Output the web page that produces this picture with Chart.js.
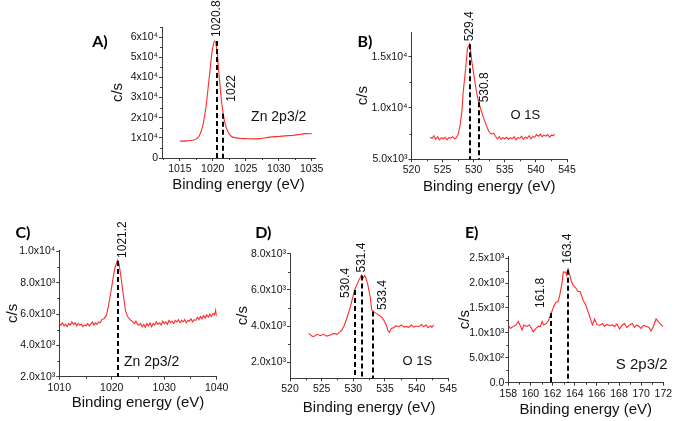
<!DOCTYPE html>
<html>
<head>
<meta charset="utf-8">
<script src="https://cdn.jsdelivr.net/npm/chart.js@4.4.1/dist/chart.umd.min.js"></script>
<style>
  html, body { margin: 0; padding: 0; background: #fff; }
  #wrap { position: relative; width: 675px; height: 421px; overflow: hidden; }
  #wrap canvas { position: absolute; left: 0; top: 0; }
</style>
</head>
<body>
<div id="wrap">
  <canvas id="chartA" width="675" height="421"></canvas>
  <canvas id="chartB" width="675" height="421"></canvas>
  <canvas id="chartC" width="675" height="421"></canvas>
  <canvas id="chartD" width="675" height="421"></canvas>
  <canvas id="chartE" width="675" height="421"></canvas>
</div>
<script>
// --- A) Zn 2p3/2 ---
const energyA = [1015, 1016, 1017, 1017.5, 1018, 1018.5, 1019, 1019.5, 1019.9, 1020.3, 1020.65,
  1021, 1021.4, 1021.8, 1022.3, 1022.8, 1023.5, 1024.2, 1025, 1026, 1027, 1028, 1029, 1030,
  1031, 1032, 1033, 1034, 1035];
const countsA = [8300, 8500, 8800, 9500, 11300, 16300, 26200, 41200, 52800, 58100, 52800,
  39500, 26200, 17900, 13000, 10800, 10000, 9700, 9600, 9500, 9600, 10000, 10500, 10700,
  11000, 11200, 11600, 12100, 12000];
const peakPosA = [1020.65, 1021.55];
const peakTopA = [58000, 22000];
const peakLabelA = ["1020.8", "1022"];
const xTicksA = [1015, 1020, 1025, 1030, 1035];
const yTicksA = [0, 10000, 20000, 30000, 40000, 50000, 60000];
const yLabelsA = ["0", "1x10⁴", "2x10⁴", "3x10⁴", "4x10⁴", "5x10⁴", "6x10⁴"];

// --- B) O 1S ---
const energyB = [523.0, 523.3, 523.6, 523.9, 524.2, 524.5, 524.8, 525.1, 525.4, 525.7, 526.0,
  526.3, 526.6, 526.9, 527.2, 527.5, 527.8, 528.1, 528.3, 528.7, 529.0, 529.35, 529.5, 529.7,
  530.1, 530.4, 530.7, 531.1, 531.5, 532.0, 532.4, 532.8, 533.2, 533.5, 533.8, 534.1, 534.4,
  534.7, 535.0, 535.3, 535.6, 535.9, 536.2, 536.5, 536.8, 537.1, 537.4, 537.7, 538.0, 538.3,
  538.6, 538.9, 539.2, 539.5, 539.8, 540.1, 540.4, 540.7, 541.0, 541.3, 541.6, 541.9, 542.2,
  542.5, 542.8, 543.0];
const countsB = [7150, 7050, 7300, 6950, 7200, 6900, 7100, 7000, 7150, 6900, 7100,
  7050, 7200, 7000, 7100, 7400, 8300, 9600, 11500, 13800, 15800, 16250, 15650, 14500,
  12900, 11750, 10800, 9950, 9150, 8350, 7750, 7450, 7550, 7250, 7000, 7200, 6950,
  7100, 7000, 7150, 6950, 7100, 7000, 7200, 6900, 7100, 7050, 7250, 6950, 7150,
  7050, 7300, 7000, 7200, 7150, 7400, 7250, 7450, 7200, 7350, 7250, 7400, 7150,
  7350, 7300, 7450];
const peakPosB = [529.4, 530.85];
const peakTopB = [16200, 10550];
const peakLabelB = ["529.4", "530.8"];
const xTicksB = [520, 525, 530, 535, 540, 545];
const yTicksB = [5000, 10000, 15000];
const yLabelsB = ["5.0x10³", "1.0x10⁴", "1.5x10⁴"];

// --- C) Zn 2p3/2 ---
const energyC = [1010.0, 1010.3, 1010.6, 1010.9, 1011.2, 1011.5, 1011.8, 1012.1, 1012.4, 1012.7,
  1013.0, 1013.3, 1013.6, 1013.9, 1014.2, 1014.5, 1014.8, 1015.1, 1015.4, 1015.7, 1016.0,
  1016.3, 1016.6, 1016.9, 1017.2, 1017.5, 1017.8, 1018.1, 1018.5, 1019.0, 1019.4, 1019.8,
  1020.2, 1020.6, 1021.1, 1021.4, 1021.7, 1022.0, 1022.3, 1022.6, 1023.0, 1023.5, 1024.0,
  1024.3, 1024.6, 1024.9, 1025.2, 1025.5, 1025.8, 1026.1, 1026.4, 1026.7, 1027.0, 1027.3,
  1027.6, 1027.9, 1028.2, 1028.5, 1028.8, 1029.1, 1029.4, 1029.7, 1030.0, 1030.3, 1030.6,
  1030.9, 1031.2, 1031.5, 1031.8, 1032.1, 1032.4, 1032.7, 1033.0, 1033.3, 1033.6, 1033.9,
  1034.2, 1034.5, 1034.8, 1035.1, 1035.4, 1035.7, 1036.0, 1036.3, 1036.6, 1036.9, 1037.2,
  1037.5, 1037.8, 1038.1, 1038.4, 1038.7, 1039.0, 1039.3, 1039.6, 1039.8, 1040.0];
const countsC = [5400, 5300, 5450, 5250, 5350, 5200, 5400, 5300, 5500, 5350,
  5450, 5250, 5400, 5300, 5350, 5200, 5300, 5250, 5400, 5250, 5350,
  5500, 5300, 5450, 5350, 5500, 5450, 5650, 5700, 5950, 6600, 7350,
  8200, 8950, 9450, 9200, 8500, 7750, 7000, 6250, 5850, 5650, 5500,
  5400, 5550, 5350, 5300, 5400, 5200, 5350, 5150, 5400, 5250, 5450,
  5200, 5400, 5300, 5500, 5350, 5450, 5300, 5550, 5400, 5500, 5350,
  5600, 5450, 5550, 5400, 5600, 5500, 5650, 5450, 5600, 5500, 5650,
  5450, 5600, 5550, 5700, 5500, 5650, 5600, 5800, 5650, 5850, 5700,
  5900, 5750, 5950, 5800, 6000, 5850, 6050, 5950, 6250, 5850];
const peakPosC = [1021.2];
const peakTopC = [9400];
const peakLabelC = ["1021.2"];
const xTicksC = [1010, 1020, 1030, 1040];
const yTicksC = [2000, 4000, 6000, 8000, 10000];
const yLabelsC = ["2.0x10³", "4.0x10³", "6.0x10³", "8.0x10³", "1.0x10⁴"];

// --- D) O 1S ---
const energyD = [522.95, 523.4, 523.7, 524.3, 524.8, 525.3, 525.8, 526.4, 526.9, 527.4, 527.8,
  528.2, 528.6, 529.0, 529.4, 529.8, 530.2, 530.6, 530.9, 531.3, 531.5, 531.8, 532.0, 532.3,
  532.7, 532.9, 533.2, 533.6, 534.0, 534.4, 534.8, 535.2, 535.5, 535.7, 536.0, 536.4, 536.7,
  537.2, 537.6, 538.0, 538.3, 538.7, 539.2, 539.5, 539.9, 540.3, 540.8, 541.1, 541.5, 541.8,
  542.2, 542.4, 542.7];
const countsD = [3590, 3460, 3410, 3540, 3460, 3540, 3440, 3500, 3590, 3540, 3650,
  3780, 4060, 4460, 4890, 5440, 6000, 6310, 6560, 6830, 6650, 6800, 6650, 6280,
  5540, 4890, 4800, 4700, 4610, 4520, 4330, 4060, 3720, 3650, 3870, 3910, 4020,
  3960, 4060, 3940, 3980, 3930, 4060, 3940, 4000, 3960, 4090, 3960, 4060, 3910,
  4020, 3930, 4060];
const peakPosD = [530.2, 531.4, 533.1];
const peakTopD = [6000, 6800, 4800];
const peakLabelD = ["530.4", "531.4", "533.4"];
const xTicksD = [520, 525, 530, 535, 540, 545];
const yTicksD = [2000, 4000, 6000, 8000];
const yLabelsD = ["2.0x10³", "4.0x10³", "6.0x10³", "8.0x10³"];

// --- E) S 2p3/2 ---
const energyE = [158.0, 158.2, 158.45, 158.7, 158.9, 159.05, 159.25, 159.4, 159.65, 159.9,
  160.1, 160.25, 160.5, 160.7, 160.9, 161.05, 161.2, 161.45, 161.65, 161.85, 162.0, 162.15,
  162.3, 162.5, 162.65, 162.85, 162.97, 163.2, 163.25, 163.4, 163.55, 163.7, 163.85, 164.1,
  164.3, 164.5, 164.75, 165.0, 165.2, 165.4, 165.6, 165.8, 166.0, 166.25, 166.5, 166.7,
  166.9, 167.15, 167.4, 167.6, 167.8, 168.05, 168.3, 168.5, 168.7, 168.95, 169.2, 169.4,
  169.6, 169.8, 170.0, 170.2, 170.5, 170.7, 170.9, 171.1, 171.35, 171.6, 171.8, 172.0];
const countsE = [1160, 1090, 1130, 1160, 1230, 1160, 1060, 1160, 1130, 1160,
  1090, 1025, 1090, 1130, 1130, 1230, 1160, 1190, 1260, 1390, 1460, 1560,
  1610, 1630, 1760, 2000, 2220, 2220, 2160, 2280, 2160, 2030, 1960, 1900,
  1830, 1830, 1660, 1560, 1430, 1290, 1160, 1280, 1170, 1150, 1190, 1130,
  1170, 1150, 1160, 1130, 1180, 1080, 1160, 1190, 1110, 1160, 1190, 1110,
  1160, 1130, 1090, 1150, 1130, 1110, 1040, 1130, 1280, 1210, 1160, 1130];
const peakPosE = [161.9, 163.4];
const peakTopE = [1400, 2270];
const peakLabelE = ["161.8", "163.4"];
const xTicksE = [158, 160, 162, 164, 166, 168, 170, 172];
const yTicksE = [0, 500, 1000, 1500, 2000, 2500];
const yLabelsE = ["0.0", "5.0x10²", "1.0x10³", "1.5x10³", "2.0x10³", "2.5x10³"];

Chart.defaults.font.family = "'Liberation Sans', Arial, sans-serif";
Chart.defaults.color = "#111";

const AXIS = "#3a3a3a";
const PAGE_W = 675, PAGE_H = 421;

// dashed peak markers, inner label, panel letter and minor ticks
const xpsDecor = {
  id: "xpsDecor",
  afterDatasetsDraw(chart, args, o) {
    const { ctx, chartArea: a, scales: { x, y } } = chart;
    ctx.save();

    // minor ticks
    ctx.strokeStyle = AXIS;
    ctx.lineWidth = 1;
    ctx.beginPath();
    const near = (v, arr) => arr.some((t) => Math.abs(t - v) < 1e-6);
    for (let k = Math.ceil(x.min / o.minorX); k * o.minorX <= x.max + 1e-9; k++) {
      const v = k * o.minorX;
      if (near(v, o.xMajor)) continue;
      const px = Math.round(x.getPixelForValue(v)) + 0.5;
      ctx.moveTo(px, a.bottom);
      ctx.lineTo(px, a.bottom + 2);
    }
    for (let k = Math.ceil(y.min / o.minorY); k * o.minorY <= y.max + 1e-9; k++) {
      const v = k * o.minorY;
      if (near(v, o.yMajor)) continue;
      const py = Math.round(y.getPixelForValue(v)) + 0.5;
      ctx.moveTo(a.left, py);
      ctx.lineTo(a.left - 2, py);
    }
    ctx.stroke();

    // peak lines + rotated labels
    ctx.font = "12px 'Liberation Sans', Arial, sans-serif";
    ctx.fillStyle = "#111";
    o.pos.forEach((p, i) => {
      const px = Math.round(x.getPixelForValue(p));
      const top = y.getPixelForValue(o.top[i]);
      ctx.strokeStyle = "#000";
      ctx.lineWidth = 2;
      ctx.setLineDash([5, 3]);
      ctx.beginPath();
      ctx.moveTo(px, top);
      ctx.lineTo(px, a.bottom);
      ctx.stroke();
      ctx.setLineDash([]);
      ctx.save();
      ctx.translate(px + o.dx[i], top - o.gap[i]);
      ctx.rotate(-Math.PI / 2);
      ctx.textAlign = "left";
      ctx.textBaseline = "middle";
      ctx.fillText(o.labels[i], 0, 0);
      ctx.restore();
    });

    // species note
    ctx.font = o.noteFont;
    ctx.textAlign = "center";
    ctx.textBaseline = "middle";
    ctx.fillText(o.note, x.getPixelForValue(o.noteAt[0]), y.getPixelForValue(o.noteAt[1]));

    // panel letter
    ctx.font = "bold 16px Lato, 'Liberation Sans', sans-serif";
    ctx.fillStyle = "#000";
    ctx.fillText(o.letter, a.left + o.letterAt[0], a.top + o.letterAt[1]);
    ctx.restore();
  },
};

function makePanel(id, p) {
  const yW = p.yTitleOff + 9;
  const xH = p.xTitleOff + 9;
  return new Chart(document.getElementById(id), {
    type: "line",
    data: {
      datasets: [{
        data: p.xs.map((v, i) => ({ x: v, y: p.ys[i] })),
        borderColor: "#ff2a2a",
        borderWidth: 1.1,
        pointRadius: 0,
        tension: p.smooth ? 0.4 : 0,
        cubicInterpolationMode: p.smooth ? "monotone" : "default",
      }],
    },
    options: {
      responsive: false,
      animation: false,
      events: [],
      layout: {
        padding: {
          left: p.box[0] - yW,
          top: p.box[1],
          right: PAGE_W - p.box[2],
          bottom: PAGE_H - p.box[3] - xH,
        },
      },
      plugins: {
        legend: { display: false },
        tooltip: { enabled: false },
        xpsDecor: p.decor,
      },
      scales: {
        x: {
          type: "linear",
          min: p.xRange[0],
          max: p.xRange[1],
          afterBuildTicks: (s) => { s.ticks = p.xTicks.map((v) => ({ value: v })); },
          afterFit: (s) => { s.height = xH; },
          ticks: { autoSkip: false, maxRotation: 0, padding: 2, font: { size: 10.5 }, callback: (v) => String(v) },
          grid: { drawOnChartArea: false, tickLength: 3, tickColor: AXIS },
          border: { color: AXIS, width: 1 },
          title: { display: true, text: "Binding energy (eV)", padding: 0, font: { size: 15 }, color: "#111" },
        },
        y: {
          type: "linear",
          min: p.yRange[0],
          max: p.yRange[1],
          afterBuildTicks: (s) => { s.ticks = p.yTicks.map((v) => ({ value: v })); },
          afterFit: (s) => { s.width = yW; },
          ticks: { autoSkip: false, padding: 1, font: { size: 10.5 }, callback: (v) => p.yLabels[p.yTicks.indexOf(v)] },
          grid: { drawOnChartArea: false, tickLength: 3, tickColor: AXIS },
          border: { color: AXIS, width: 1 },
          title: { display: true, text: "c/s", padding: 0, font: { size: 15 }, color: "#111" },
        },
      },
    },
    plugins: [xpsDecor],
  });
}

makePanel("chartA", {
  xs: energyA, ys: countsA, smooth: true,
  box: [162, 27, 315, 158], xRange: [1012.3, 1035.5], yRange: [0, 65000],
  xTicks: xTicksA, yTicks: yTicksA, yLabels: yLabelsA, yTitleOff: 44, xTitleOff: 27,
  decor: {
    pos: peakPosA, top: peakTopA, labels: peakLabelA, dx: [0, 9], gap: [4, 12],
    minorX: 2.5, minorY: 5000, xMajor: xTicksA, yMajor: yTicksA,
    note: "Zn 2p3/2", noteFont: "14px 'Liberation Sans', Arial, sans-serif", noteAt: [1030, 20500],
    letter: "A)", letterAt: [-62, 15],
  },
});

makePanel("chartB", {
  xs: energyB, ys: countsB,
  box: [411.5, 32, 567, 159.3], xRange: [520, 545], yRange: [5000, 17400],
  xTicks: xTicksB, yTicks: yTicksB, yLabels: yLabelsB, yTitleOff: 48.5, xTitleOff: 27.4,
  decor: {
    pos: peakPosB, top: peakTopB, labels: peakLabelB, dx: [0, 6], gap: [3, 0],
    minorX: 2.5, minorY: 2500, xMajor: xTicksB, yMajor: yTicksB,
    note: "O 1S", noteFont: "13px 'Liberation Sans', Arial, sans-serif", noteAt: [538.3, 9300],
    letter: "B)", letterAt: [-46.5, 10],
  },
});

makePanel("chartC", {
  xs: energyC, ys: countsC,
  box: [59.3, 250, 216.7, 376.7], xRange: [1010, 1040], yRange: [2000, 10100],
  xTicks: xTicksC, yTicks: yTicksC, yLabels: yLabelsC, yTitleOff: 46, xTitleOff: 26.3,
  decor: {
    pos: peakPosC, top: peakTopC, labels: peakLabelC, dx: [5], gap: [3],
    minorX: 5, minorY: 1000, xMajor: xTicksC, yMajor: yTicksC,
    note: "Zn 2p3/2", noteFont: "14px 'Liberation Sans', Arial, sans-serif", noteAt: [1027.6, 2960],
    letter: "C)", letterAt: [-36.3, -17],
  },
});

makePanel("chartD", {
  xs: energyD, ys: countsD,
  box: [290, 253, 448.3, 378.3], xRange: [520, 545], yRange: [1100, 8050],
  xTicks: xTicksD, yTicks: yTicksD, yLabels: yLabelsD, yTitleOff: 46.7, xTitleOff: 30,
  decor: {
    pos: peakPosD, top: peakTopD, labels: peakLabelD, dx: [-9, 0, 9.6], gap: [-8, 3, 1.5],
    minorX: 2.5, minorY: 1000, xMajor: xTicksD, yMajor: yTicksD,
    note: "O 1S", noteFont: "13px 'Liberation Sans', Arial, sans-serif", noteAt: [540.1, 2030],
    letter: "D)", letterAt: [-26.7, -19.7],
  },
});

makePanel("chartE", {
  xs: energyE, ys: countsE,
  box: [508.3, 256.7, 663.3, 382.7], xRange: [158, 172], yRange: [0, 2530],
  xTicks: xTicksE, yTicks: yTicksE, yLabels: yLabelsE, yTitleOff: 43.3, xTitleOff: 27.3,
  decor: {
    pos: peakPosE, top: peakTopE, labels: peakLabelE, dx: [-10, 0], gap: [5, 6],
    minorX: 1, minorY: 250, xMajor: xTicksE, yMajor: yTicksE,
    note: "S 2p3/2", noteFont: "15px 'Liberation Sans', Arial, sans-serif", noteAt: [170.05, 356],
    letter: "E)", letterAt: [-36.6, -23.7],
  },
});
</script>
</body>
</html>
